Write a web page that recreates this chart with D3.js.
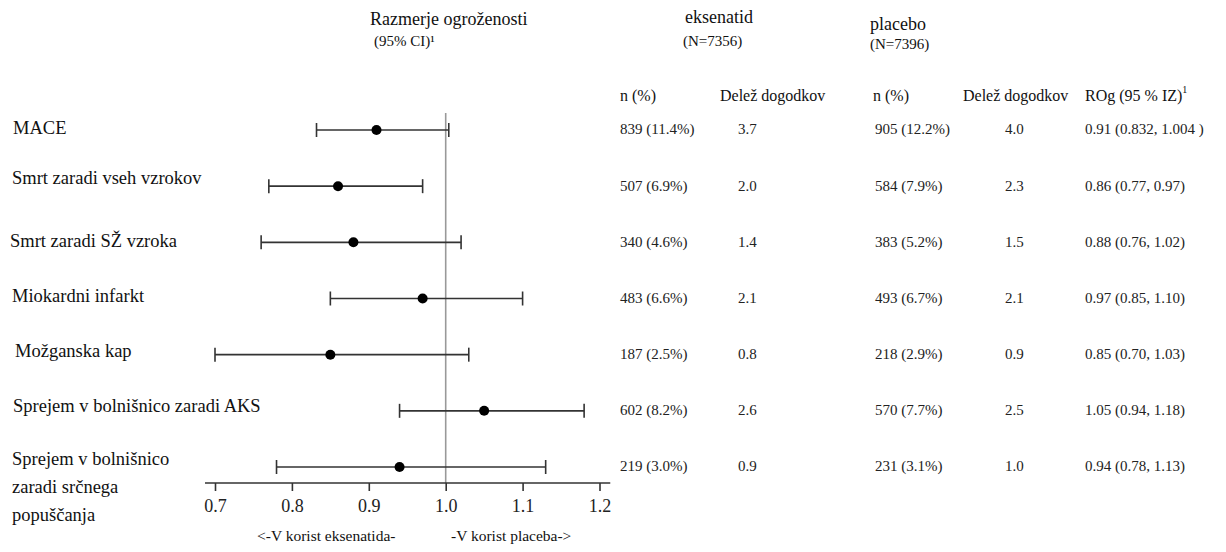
<!DOCTYPE html>
<html>
<head>
<meta charset="utf-8">
<script src="https://cdn.jsdelivr.net/npm/d3@7"></script>
<style>
  body { margin: 0; background: #fff; }
  text { font-family: "Liberation Serif", "Times New Roman", serif; }
</style>
</head>
<body>
<div id="chart"></div>
<script>
"use strict";

// == DATA ==
var outcomes = ["MACE", "Smrt zaradi vseh vzrokov", "Smrt zaradi SŽ vzroka", "Miokardni infarkt",
                "Možganska kap", "Sprejem v bolnišnico zaradi AKS", "Sprejem v bolnišnico zaradi srčnega popuščanja"];
var labelLines = [["MACE"], ["Smrt zaradi vseh vzrokov"], ["Smrt zaradi SŽ vzroka"], ["Miokardni infarkt"],
                  ["Možganska kap"], ["Sprejem v bolnišnico zaradi AKS"],
                  ["Sprejem v bolnišnico", "zaradi srčnega", "popuščanja"]];
var hr   = [0.91, 0.86, 0.88, 0.97, 0.85, 1.05, 0.94];
var ciLo = [0.832, 0.77, 0.76, 0.85, 0.70, 0.94, 0.78];
var ciHi = [1.004, 0.97, 1.02, 1.10, 1.03, 1.18, 1.13];
var exenN    = ["839 (11.4%)", "507 (6.9%)", "340 (4.6%)", "483 (6.6%)", "187 (2.5%)", "602 (8.2%)", "219 (3.0%)"];
var exenRate = ["3.7", "2.0", "1.4", "2.1", "0.8", "2.6", "0.9"];
var placN    = ["905 (12.2%)", "584 (7.9%)", "383 (5.2%)", "493 (6.7%)", "218 (2.9%)", "570 (7.7%)", "231 (3.1%)"];
var placRate = ["4.0", "2.3", "1.5", "2.1", "0.9", "2.5", "1.0"];
var hrText   = ["0.91 (0.832, 1.004 )", "0.86 (0.77, 0.97)", "0.88 (0.76, 1.02)", "0.97 (0.85, 1.10)",
                "0.85 (0.70, 1.03)", "1.05 (0.94, 1.18)", "0.94 (0.78, 1.13)"];
var xTicks = [0.7, 0.8, 0.9, 1.0, 1.1, 1.2];

var width = 1226, height = 552;
var serif = "Liberation Serif";

var svg = d3.select("#chart")
            .append("svg")
            .attr("width", width)
            .attr("height", height);

var x = d3.scaleLinear().domain([0.7, 1.2]).range([215, 599.5]);
var y = d3.scalePoint().domain(outcomes).range([130, 467]);
var axisY = 483;

// headers
function txt(t, px, py, size, anchor) {
  return svg.append("text").attr("x", px).attr("y", py)
            .attr("font-family", serif)
            .attr("font-size", size).attr("text-anchor", anchor || "start")
            .attr("dominant-baseline", "middle").attr("fill", "#111").text(t);
}
txt("Razmerje ogroženosti", 370, 21, 18);
txt("(95% CI)\u00B9", 374, 43, 15);
txt("eksenatid", 685, 19, 18);
txt("(N=7356)", 683, 43, 15);
txt("placebo", 870, 26, 18);
txt("(N=7396)", 870, 46, 15);

var colX = [620, 720, 873, 963, 1085];
var colHead = ["n (%)", "Delež dogodkov", "n (%)", "Delež dogodkov", "ROg (95 % IZ)"];
colHead.forEach(function(h, i) {
  var t = txt(h, colX[i], 97, 16);
  if (i == 4) {
    t.append("tspan").attr("font-size", 10).attr("dy", -6).text("1");
  }
});

// reference line at 1.0
svg.append("line")
   .attr("x1", x(1)).attr("x2", x(1))
   .attr("y1", 113).attr("y2", axisY)
   .attr("stroke", "#999").attr("stroke-width", 1.6);

// axis
var xAxis = d3.axisBottom(x).tickValues(xTicks).tickFormat(d3.format(".1f")).tickSize(8).tickSizeOuter(0);
var gx = svg.append("g").attr("transform", "translate(0," + axisY + ")").call(xAxis);
gx.attr("font-family", serif);
gx.select(".domain").remove();
gx.append("line").attr("x1", x(0.687)).attr("x2", x(1.214))
  .attr("stroke", "#333").attr("stroke-width", 1.6);
gx.selectAll(".tick line").attr("stroke", "#333").attr("stroke-width", 1.6);
gx.selectAll(".tick text").attr("font-family", serif).attr("font-size", 18)
  .attr("fill", "#222").attr("y", 16).attr("dy", "0.71em");

// rows
var rows = svg.selectAll(".row")
  .data(outcomes)
  .enter()
  .append("g")
  .attr("class", "row")
  .attr("transform", function(d) { return "translate(0," + y(d) + ")"; });

var labelOffsets = [0, -6, 0, -1, -2, -3, -6];
var labelX = [13, 12, 10, 12, 15, 13, 12];
rows.each(function(d, i) {
  var g = d3.select(this);
  var lines = labelLines[i];
  lines.forEach(function(l, j) {
    g.append("text")
     .attr("x", labelX[i])
     .attr("y", labelOffsets[i] + j * 28)
     .attr("dominant-baseline", "middle")
     .attr("font-family", serif)
     .attr("font-size", 18.5)
     .attr("fill", "#111")
     .text(l);
  });

  // whisker
  g.append("line").attr("x1", x(ciLo[i])).attr("x2", x(ciHi[i]))
   .attr("stroke", "#333").attr("stroke-width", 1.6);
  [ciLo[i], ciHi[i]].forEach(function(v) {
    g.append("line").attr("x1", x(v)).attr("x2", x(v)).attr("y1", -7).attr("y2", 7)
     .attr("stroke", "#333").attr("stroke-width", 1.6);
  });
  g.append("circle").attr("cx", x(hr[i])).attr("r", 5).attr("fill", "#000");

  // table
  var vals = [exenN[i], exenRate[i], placN[i], placRate[i], hrText[i]];
  var vx = [620, 738, 875, 1005, 1085];
  vals.forEach(function(v, k) {
    g.append("text").attr("x", vx[k]).attr("y", 1)
     .attr("dominant-baseline", "middle")
     .attr("font-family", serif)
     .attr("font-size", 15).attr("fill", "#222").text(v);
  });
});

// bottom direction labels
txt("<-V korist eksenatida-", 257, 537, 15.5);
txt("-V korist placeba->", 451, 537, 15.5);
</script>
</body>
</html>
